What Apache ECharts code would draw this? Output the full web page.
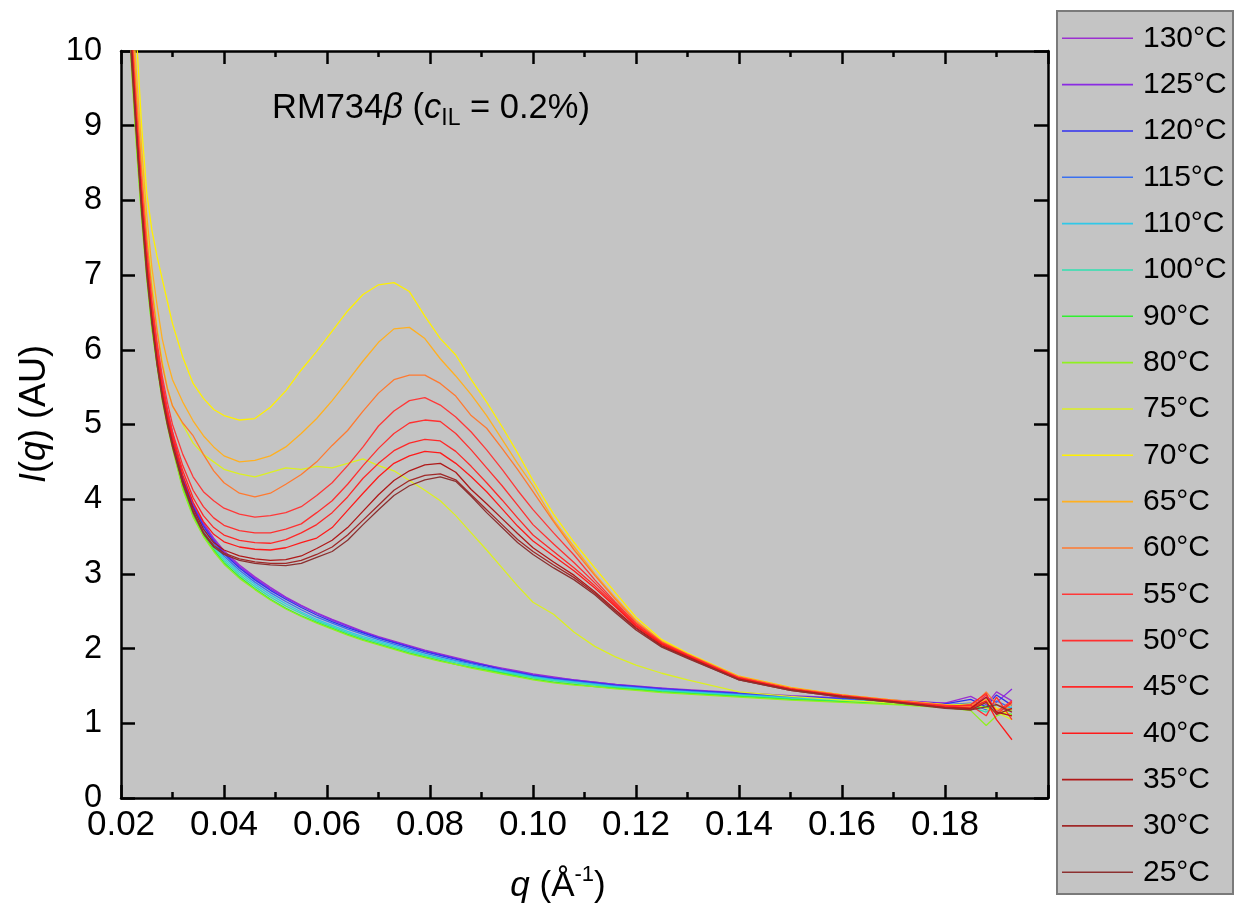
<!DOCTYPE html>
<html><head><meta charset="utf-8">
<script src="https://cdn.jsdelivr.net/npm/echarts@6/dist/echarts.min.js"></script>
<style>html,body{margin:0;padding:0;background:#fff}#c{width:1238px;height:915px}</style>
</head><body><div id="c"></div>
<script>
// q grid (1/Å)
const qValues = [0.021,0.022,0.023,0.024,0.025,0.026,0.027,0.028,0.029,0.030,
  0.032,0.034,0.036,0.038,0.040,0.043,0.046,0.049,0.052,0.055,
  0.058,0.061,0.064,0.067,0.070,0.073,0.076,0.079,0.082,0.085,
  0.088,0.091,0.094,0.097,0.100,0.104,0.108,0.112,0.116,0.120,
  0.125,0.130,0.140,0.150,0.160,0.170,0.180,0.185,0.188,0.190,
  0.193];
const seriesNames = ['130°C','125°C','120°C','115°C','110°C','100°C','90°C','80°C','75°C','70°C',
  '65°C','60°C','55°C','50°C','45°C','40°C','35°C','30°C','25°C'];
const xTicks = [0.02,0.04,0.06,0.08,0.10,0.12,0.14,0.16,0.18];
const yTicks = [0,1,2,3,4,5,6,7,8,9,10];

const i130 = [11.9,10.2,9.1,8.1,7.3,6.6,6.05,5.6,5.2,4.9,
  4.30,3.93,3.68,3.48,3.31,3.12,2.96,2.82,2.69,2.58,
  2.48,2.39,2.31,2.23,2.16,2.10,2.04,1.98,1.93,1.88,
  1.83,1.78,1.74,1.70,1.66,1.62,1.58,1.55,1.52,1.50,
  1.47,1.45,1.41,1.37,1.34,1.31,1.27,1.36,1.25,1.42,1.30];
const i125 = [11.9,10.2,9.05,8.05,7.25,6.55,6.0,5.55,5.15,4.85,
  4.28,3.92,3.66,3.46,3.29,3.10,2.94,2.80,2.68,2.57,
  2.47,2.38,2.30,2.22,2.15,2.09,2.03,1.97,1.92,1.87,
  1.82,1.78,1.73,1.69,1.65,1.61,1.58,1.55,1.52,1.49,
  1.47,1.44,1.40,1.36,1.33,1.30,1.27,1.20,1.35,1.28,1.46];
const i120 = [11.8,10.1,9.0,8.0,7.2,6.5,5.95,5.5,5.12,4.82,
  4.26,3.90,3.64,3.44,3.27,3.08,2.92,2.78,2.66,2.55,
  2.45,2.36,2.28,2.21,2.14,2.08,2.02,1.96,1.91,1.86,
  1.81,1.77,1.72,1.68,1.64,1.60,1.57,1.54,1.51,1.49,
  1.46,1.44,1.40,1.36,1.33,1.30,1.26,1.32,1.22,1.38,1.24];
const i115 = [11.8,10.1,8.95,7.95,7.15,6.45,5.9,5.45,5.08,4.78,
  4.23,3.86,3.61,3.41,3.24,3.05,2.89,2.75,2.63,2.52,
  2.42,2.34,2.26,2.19,2.12,2.06,2.00,1.94,1.89,1.84,
  1.80,1.75,1.71,1.67,1.63,1.59,1.56,1.53,1.50,1.48,
  1.45,1.43,1.39,1.35,1.32,1.29,1.25,1.27,1.18,1.30,1.20];
const i110 = [11.7,10.0,8.9,7.9,7.1,6.4,5.85,5.4,5.05,4.75,
  4.20,3.83,3.58,3.38,3.21,3.02,2.86,2.72,2.60,2.49,
  2.39,2.31,2.23,2.16,2.10,2.04,1.98,1.92,1.87,1.83,
  1.78,1.74,1.70,1.66,1.62,1.58,1.55,1.52,1.49,1.47,
  1.44,1.42,1.38,1.34,1.31,1.28,1.24,1.20,1.28,1.16,1.22];
const i100 = [11.7,10.0,8.85,7.85,7.05,6.35,5.82,5.38,5.02,4.72,
  4.17,3.80,3.55,3.35,3.18,2.99,2.83,2.69,2.57,2.47,
  2.37,2.29,2.21,2.14,2.08,2.02,1.96,1.91,1.86,1.81,
  1.77,1.73,1.68,1.65,1.61,1.57,1.54,1.51,1.48,1.46,
  1.43,1.41,1.37,1.33,1.30,1.27,1.23,1.22,1.15,1.25,1.18];
const i90 = [11.6,9.9,8.8,7.8,7.0,6.3,5.8,5.35,5.0,4.7,
  4.15,3.78,3.52,3.32,3.15,2.96,2.80,2.66,2.54,2.44,
  2.35,2.27,2.19,2.12,2.06,2.00,1.94,1.89,1.84,1.79,
  1.75,1.71,1.67,1.63,1.59,1.55,1.52,1.49,1.47,1.45,
  1.42,1.40,1.36,1.32,1.29,1.26,1.22,1.19,1.23,1.15,1.12];
const i80 = [11.5,9.8,8.7,7.75,6.95,6.28,5.78,5.32,4.98,4.68,
  4.13,3.76,3.50,3.30,3.13,2.94,2.79,2.65,2.53,2.43,
  2.34,2.26,2.18,2.11,2.05,1.99,1.93,1.88,1.83,1.79,
  1.74,1.70,1.66,1.62,1.58,1.54,1.51,1.49,1.46,1.44,
  1.41,1.39,1.35,1.31,1.28,1.25,1.21,1.17,0.97,1.10,1.18];
const i75 = [12.0,10.6,9.5,8.5,7.6,6.9,6.3,5.85,5.5,5.25,
  5.00,4.75,4.60,4.50,4.40,4.34,4.30,4.36,4.42,4.40,
  4.44,4.42,4.48,4.54,4.45,4.38,4.25,4.12,3.98,3.78,
  3.55,3.32,3.08,2.84,2.62,2.46,2.22,2.03,1.89,1.78,
  1.67,1.58,1.42,1.36,1.31,1.27,1.24,1.26,1.20,1.15,1.05];
const i70 = [12.5,11.2,10.2,9.0,8.1,7.6,7.25,6.95,6.65,6.35,
  5.90,5.55,5.35,5.20,5.12,5.06,5.08,5.23,5.45,5.73,
  5.98,6.25,6.52,6.74,6.87,6.90,6.78,6.45,6.15,5.93,
  5.60,5.30,4.97,4.62,4.25,3.80,3.42,3.08,2.75,2.42,
  2.12,1.94,1.63,1.48,1.38,1.31,1.25,1.22,1.28,1.20,1.10];
const i65 = [12.2,10.8,9.7,8.7,7.8,7.1,6.6,6.15,5.85,5.6,
  5.30,5.05,4.85,4.70,4.58,4.50,4.52,4.58,4.70,4.88,
  5.08,5.32,5.58,5.85,6.10,6.28,6.30,6.15,5.88,5.65,
  5.40,5.12,4.80,4.48,4.18,3.72,3.36,3.00,2.68,2.38,
  2.10,1.93,1.63,1.48,1.38,1.31,1.25,1.22,1.32,1.18,1.25];
const i60 = [12.0,10.5,9.4,8.4,7.5,6.8,6.25,5.8,5.48,5.25,
  5.02,4.85,4.60,4.38,4.22,4.08,4.03,4.08,4.20,4.33,
  4.50,4.72,4.92,5.18,5.42,5.60,5.66,5.66,5.55,5.38,
  5.12,4.95,4.68,4.40,4.10,3.70,3.32,2.98,2.66,2.36,
  2.09,1.92,1.62,1.47,1.38,1.31,1.24,1.22,1.42,1.25,1.18];
const i55 = [11.9,10.3,9.2,8.2,7.35,6.65,6.1,5.65,5.3,5.0,
  4.60,4.30,4.10,3.98,3.88,3.80,3.76,3.78,3.82,3.90,
  4.05,4.22,4.45,4.70,4.98,5.18,5.32,5.36,5.26,5.10,
  4.90,4.66,4.40,4.12,3.86,3.55,3.25,2.92,2.62,2.34,
  2.08,1.92,1.61,1.46,1.37,1.30,1.24,1.20,1.38,1.15,1.30];
const i50 = [11.8,10.2,9.1,8.1,7.25,6.55,6.0,5.55,5.2,4.9,
  4.45,4.12,3.90,3.75,3.65,3.58,3.55,3.55,3.60,3.67,
  3.82,3.98,4.20,4.45,4.68,4.88,5.02,5.06,5.04,4.88,
  4.66,4.42,4.18,3.92,3.66,3.40,3.15,2.88,2.60,2.32,
  2.07,1.91,1.61,1.46,1.37,1.30,1.23,1.24,1.10,1.35,1.05];
const i45 = [11.8,10.2,9.05,8.05,7.2,6.5,5.95,5.5,5.15,4.85,
  4.38,4.02,3.78,3.62,3.52,3.45,3.42,3.41,3.46,3.55,
  3.66,3.82,4.03,4.28,4.48,4.65,4.75,4.80,4.78,4.64,
  4.44,4.22,3.99,3.75,3.52,3.30,3.08,2.84,2.58,2.31,
  2.06,1.90,1.60,1.46,1.36,1.29,1.22,1.25,1.40,1.12,1.28];
const i40 = [11.7,10.1,9.0,8.0,7.15,6.45,5.9,5.45,5.1,4.8,
  4.32,3.96,3.70,3.53,3.43,3.36,3.33,3.32,3.35,3.42,
  3.48,3.62,3.85,4.08,4.30,4.48,4.58,4.64,4.62,4.48,
  4.30,4.10,3.87,3.64,3.44,3.24,3.04,2.81,2.56,2.30,
  2.06,1.90,1.60,1.45,1.36,1.29,1.22,1.20,1.30,1.05,0.78];
const i35 = [11.7,10.1,8.95,7.95,7.1,6.4,5.85,5.4,5.05,4.75,
  4.25,3.88,3.60,3.42,3.32,3.24,3.20,3.18,3.19,3.24,
  3.34,3.45,3.62,3.84,4.06,4.25,4.38,4.46,4.48,4.36,
  4.13,3.94,3.74,3.54,3.35,3.16,2.98,2.76,2.52,2.28,
  2.04,1.89,1.59,1.45,1.36,1.29,1.21,1.20,1.35,1.15,1.10];
const i30 = [11.6,10.0,8.9,7.9,7.05,6.38,5.82,5.38,5.02,4.72,
  4.22,3.84,3.56,3.38,3.28,3.20,3.16,3.14,3.14,3.18,
  3.26,3.36,3.52,3.72,3.92,4.12,4.25,4.32,4.34,4.26,
  4.06,3.86,3.66,3.46,3.30,3.12,2.95,2.74,2.50,2.27,
  2.03,1.88,1.58,1.44,1.35,1.28,1.21,1.18,1.28,1.12,1.20];
const i25 = [11.5,9.9,8.85,7.85,7.0,6.35,5.8,5.35,5.0,4.7,
  4.20,3.82,3.54,3.36,3.26,3.18,3.14,3.12,3.11,3.14,
  3.22,3.30,3.45,3.66,3.86,4.05,4.18,4.26,4.30,4.24,
  4.04,3.82,3.62,3.42,3.26,3.08,2.92,2.72,2.48,2.25,
  2.02,1.87,1.58,1.44,1.35,1.28,1.20,1.18,1.22,1.25,1.15];

const intensities = [i130,i125,i120,i115,i110,i100,i90,i80,i75,i70,i65,i60,i55,i50,i45,i40,i35,i30,i25];
const colors = ['#9b30d0','#8a2be2','#3030f0','#3a70f0','#30c8e8','#30e0b0','#30f030','#90f020','#dcf020','#fff000',
  '#ffb020','#ff7a30','#ff3838','#ff3030','#ff2828','#ff1a1a','#b01818','#a02828','#8c3030'];

const FONT = '"Liberation Sans", Arial, sans-serif';
const chart = echarts.init(document.getElementById('c'), null, {renderer: 'canvas'});

const series = seriesNames.map((name, k) => ({
  name: name,
  type: 'line',
  xAxisIndex: 0,
  yAxisIndex: 0,
  symbol: 'none',
  showSymbol: false,
  legendIcon: 'rect',
  clip: true,
  animation: false,
  data: qValues.map((q, j) => [q, intensities[k][j]]),
  lineStyle: {color: colors[k], width: 1.3},
  itemStyle: {color: colors[k]}
}));

const axisLineStyle = {color: '#000', width: 2.5};

const option = {
  animation: false,
  backgroundColor: '#ffffff',
  grid: {left: 121, right: 190, top: 51, bottom: 117, show: true, backgroundColor: '#c4c4c4', borderWidth: 0},
  xAxis: [{
    type: 'value', min: 0.02, max: 0.20, interval: 0.02,
    axisLine: {show: true, onZero: false, lineStyle: axisLineStyle},
    axisTick: {show: true, inside: true, length: 13, lineStyle: axisLineStyle},
    minorTick: {show: true, splitNumber: 2, length: 6, lineStyle: axisLineStyle},
    splitLine: {show: false}, minorSplitLine: {show: false},
    axisLabel: {show: true, fontSize: 35, color: '#000', fontFamily: FONT, margin: 10, showMaxLabel: false,
      formatter: v => { const t = xTicks.find(x => Math.abs(x - v) < 1e-6); return t === undefined ? '' : t.toFixed(2); }}
  }, {
    type: 'value', position: 'top', min: 0.02, max: 0.20, interval: 0.02,
    axisLine: {show: true, onZero: false, lineStyle: axisLineStyle},
    axisTick: {show: true, inside: true, length: 13, lineStyle: axisLineStyle},
    minorTick: {show: true, splitNumber: 2, length: 6, lineStyle: axisLineStyle},
    splitLine: {show: false}, axisLabel: {show: false}
  }],
  yAxis: [{
    type: 'value', min: 0, max: 10, interval: 1,
    axisLine: {show: true, onZero: false, lineStyle: axisLineStyle},
    axisTick: {show: true, inside: true, length: 14, lineStyle: axisLineStyle},
    splitLine: {show: false},
    axisLabel: {show: true, fontSize: 32.5, color: '#000', fontFamily: FONT, margin: 19,
      formatter: v => { const t = yTicks.find(y => Math.abs(y - v) < 1e-6); return t === undefined ? '' : String(t); }}
  }, {
    type: 'value', position: 'right', min: 0, max: 10, interval: 1,
    axisLine: {show: true, onZero: false, lineStyle: axisLineStyle},
    axisTick: {show: true, inside: true, length: 14, lineStyle: axisLineStyle},
    splitLine: {show: false}, axisLabel: {show: false}
  }],
  legend: {
    data: seriesNames,
    orient: 'vertical',
    left: 1062, top: 23.3,
    padding: 0,
    icon: 'rect',
    itemWidth: 71, itemHeight: 1.6, itemGap: 16.33,
    selectedMode: false,
    textStyle: {fontSize: 30, fontFamily: FONT, color: '#000', lineHeight: 30, padding: [0, 0, 0, 5]}
  },
  graphic: [
    {type: 'rect', z: -1, shape: {x: 1057, y: 11, width: 176, height: 883},
      style: {fill: '#c4c4c4', stroke: '#7a7a7a', lineWidth: 2}},
    {type: 'text', left: 272, top: 91, z: 10,
      style: {
        text: '{n|RM734}{i|β}{n| (}{i|c}{s|IL}{n| = 0.2%)}',
        rich: {
          n: {fontSize: 34.5, fontFamily: FONT, fill: '#000', lineHeight: 44, verticalAlign: 'middle'},
          i: {fontSize: 34.5, fontFamily: FONT, fontStyle: 'italic', fill: '#000', lineHeight: 44, verticalAlign: 'middle'},
          s: {fontSize: 23, fontFamily: FONT, fill: '#000', lineHeight: 22, verticalAlign: 'bottom'}
        }
      }},
    {type: 'text', x: 558, y: 886, z: 10,
      style: {
        text: '{i|q}{n| (Å}{p|-1}{n|)}',
        align: 'center', verticalAlign: 'middle',
        rich: {
          n: {fontSize: 35, fontFamily: FONT, fill: '#000', lineHeight: 44, verticalAlign: 'middle'},
          i: {fontSize: 35, fontFamily: FONT, fontStyle: 'italic', fill: '#000', lineHeight: 44, verticalAlign: 'middle'},
          p: {fontSize: 22, fontFamily: FONT, fill: '#000', lineHeight: 22, verticalAlign: 'top'}
        }
      }},
    {type: 'text', x: 35, y: 414, rotation: Math.PI / 2, z: 10,
      style: {
        text: '{i|I}{n|(}{i|q}{n|) (AU)}',
        align: 'center', verticalAlign: 'middle',
        rich: {
          n: {fontSize: 36, fontFamily: FONT, fill: '#000'},
          i: {fontSize: 36, fontFamily: FONT, fontStyle: 'italic', fill: '#000'}
        }
      }}
  ],
  series: series
};
chart.setOption(option);
</script>
</body></html>
